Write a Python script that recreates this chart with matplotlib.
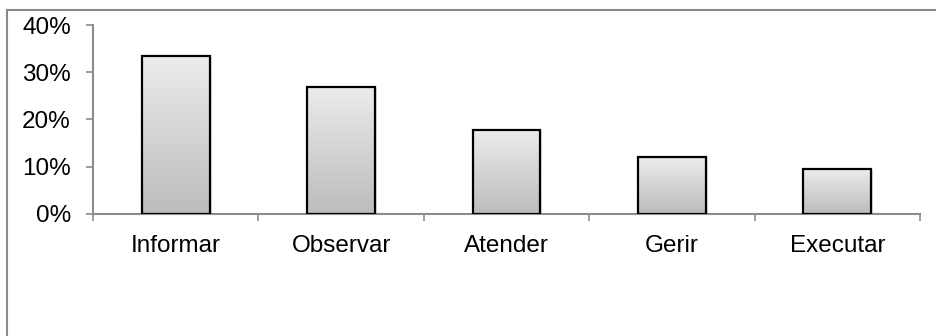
import numpy as np
import matplotlib
matplotlib.use("Agg")
import matplotlib.pyplot as plt
from matplotlib.lines import Line2D
from matplotlib.ticker import FuncFormatter

categories = ["Informar", "Observar", "Atender", "Gerir", "Executar"]
values = [33.4, 26.9, 17.7, 12.0, 9.5]
y_ticks = [0, 10, 20, 30, 40]

plt.rcParams["font.family"] = ["Liberation Sans", "DejaVu Sans"]

W, H = 936, 336
fig = plt.figure(figsize=(W / 100, H / 100), dpi=100)
ax = fig.add_axes([93 / W, (H - 214) / H, (920 - 93) / W, (214 - 25) / H])

x = np.arange(len(categories))
bars = ax.bar(x, values, width=0.41, facecolor="none", edgecolor="black",
              linewidth=1.6, zorder=3)

# vertical grey gradient inside each bar
grad = np.linspace(0, 1, 256).reshape(-1, 1)
cmap = matplotlib.colors.LinearSegmentedColormap.from_list(
    "bargrad", ["#bcbcbc", "#ececec"])
for b in bars:
    x0, y0 = b.get_x(), b.get_y()
    w, h = b.get_width(), b.get_height()
    im = ax.imshow(grad, extent=[x0, x0 + w, y0, y0 + h], origin="lower",
                   cmap=cmap, aspect="auto", zorder=2, interpolation="bilinear")
    im.set_clip_path(b)
    # soft drop shadow
    ax.add_patch(plt.Rectangle((x0 + 0.012, y0), w, h - 0.15, facecolor="#000000",
                               alpha=0.12, edgecolor="none", zorder=1))

ax.set_xlim(-0.5, len(categories) - 0.5)
ax.set_ylim(0, 40)
ax.set_yticks(y_ticks)
ax.yaxis.set_major_formatter(FuncFormatter(lambda v, p: f"{int(v)}%"))
ax.set_xticks(x)
ax.set_xticklabels(categories)
ax.set_xticks(np.arange(len(categories) + 1) - 0.5, minor=True)
ax.tick_params(axis="x", which="major", length=0, pad=15, labelsize=17.5)
ax.tick_params(axis="x", which="minor", length=5, width=1.2, color="#8c8c8c",
               direction="out")
ax.tick_params(axis="y", length=5, width=1.2, color="#8c8c8c", pad=11,
               labelsize=17.5)

for s in ["top", "right"]:
    ax.spines[s].set_visible(False)
for s in ["left", "bottom"]:
    ax.spines[s].set_color("#8c8c8c")
    ax.spines[s].set_linewidth(1.5)

# outer frame (top and left edges)
fig.add_artist(Line2D([7 / W, 1.0], [1 - 9.5 / H, 1 - 9.5 / H],
                      color="#8a8a8a", linewidth=1.5, transform=fig.transFigure))
fig.add_artist(Line2D([7 / W, 7 / W], [0, 1 - 9.5 / H],
                      color="#8a8a8a", linewidth=1.5, transform=fig.transFigure))

fig.savefig("out.png", dpi=100, facecolor="white")
